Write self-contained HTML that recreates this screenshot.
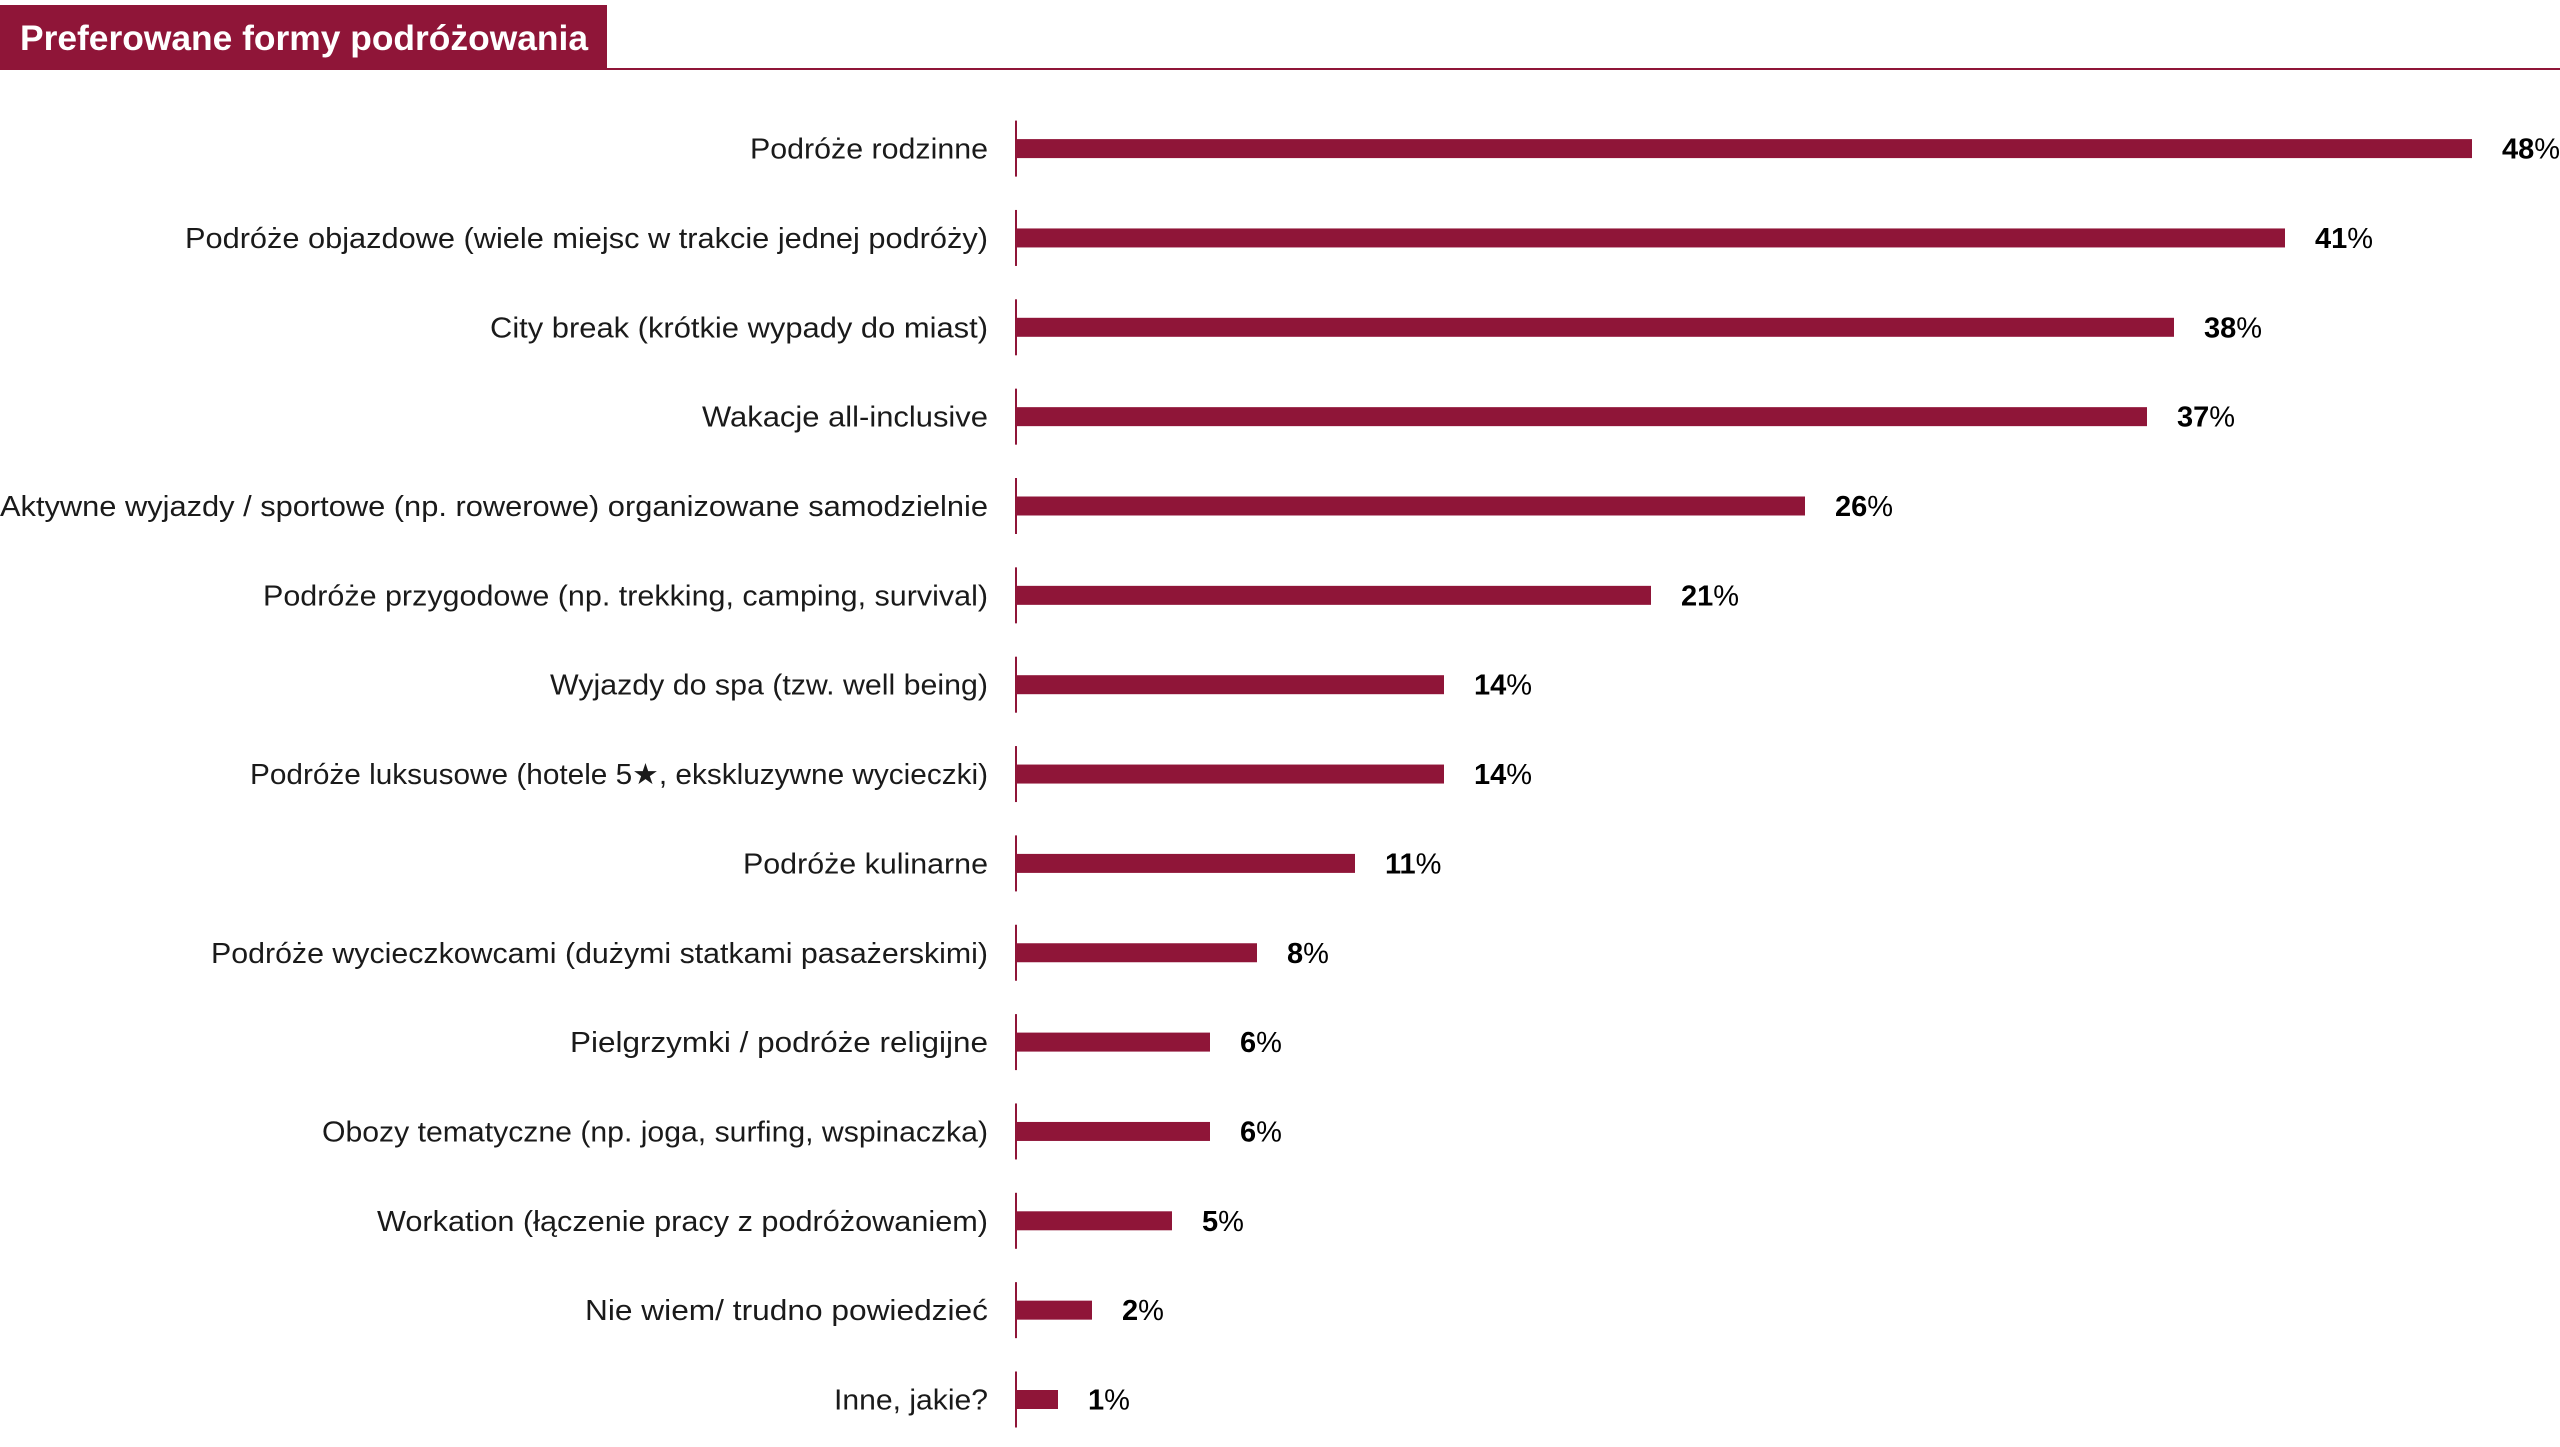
<!DOCTYPE html>
<html><head><meta charset="utf-8"><style>
html,body{margin:0;padding:0;background:#fff;width:2560px;height:1447px;overflow:hidden}
</style></head><body>
<svg width="2560" height="1447" xmlns="http://www.w3.org/2000/svg" font-family="'Liberation Sans', sans-serif">
<rect x="0" y="5" width="607" height="64" fill="#8f1538"/>
<rect x="0" y="68" width="2560" height="2" fill="#8f1538"/>
<text x="20" y="50" fill="#fff" font-size="35" font-weight="bold" textLength="568" lengthAdjust="spacingAndGlyphs">Preferowane formy podróżowania</text>
<g fill="#8f1538">
<rect x="1015" y="120.6" width="2" height="56"/><rect x="1016" y="139.1" width="1456" height="19"/>
<rect x="1015" y="209.95" width="2" height="56"/><rect x="1016" y="228.45" width="1269" height="19"/>
<rect x="1015" y="299.3" width="2" height="56"/><rect x="1016" y="317.8" width="1158" height="19"/>
<rect x="1015" y="388.65" width="2" height="56"/><rect x="1016" y="407.15" width="1131" height="19"/>
<rect x="1015" y="478" width="2" height="56"/><rect x="1016" y="496.5" width="789" height="19"/>
<rect x="1015" y="567.35" width="2" height="56"/><rect x="1016" y="585.85" width="635" height="19"/>
<rect x="1015" y="656.7" width="2" height="56"/><rect x="1016" y="675.2" width="428" height="19"/>
<rect x="1015" y="746.05" width="2" height="56"/><rect x="1016" y="764.55" width="428" height="19"/>
<rect x="1015" y="835.4" width="2" height="56"/><rect x="1016" y="853.9" width="339" height="19"/>
<rect x="1015" y="924.75" width="2" height="56"/><rect x="1016" y="943.25" width="241" height="19"/>
<rect x="1015" y="1014.1" width="2" height="56"/><rect x="1016" y="1032.6" width="194" height="19"/>
<rect x="1015" y="1103.45" width="2" height="56"/><rect x="1016" y="1121.95" width="194" height="19"/>
<rect x="1015" y="1192.8" width="2" height="56"/><rect x="1016" y="1211.3" width="156" height="19"/>
<rect x="1015" y="1282.15" width="2" height="56"/><rect x="1016" y="1300.65" width="76" height="19"/>
<rect x="1015" y="1371.5" width="2" height="56"/><rect x="1016" y="1390" width="42" height="19"/>
</g>
<g font-size="29" fill="#1a1a1a" text-anchor="end">
<text x="988" y="158.6" textLength="238" lengthAdjust="spacingAndGlyphs">Podróże rodzinne</text>
<text x="988" y="247.95" textLength="803" lengthAdjust="spacingAndGlyphs">Podróże objazdowe (wiele miejsc w trakcie jednej podróży)</text>
<text x="988" y="337.3" textLength="498" lengthAdjust="spacingAndGlyphs">City break (krótkie wypady do miast)</text>
<text x="988" y="426.65" textLength="286" lengthAdjust="spacingAndGlyphs">Wakacje all-inclusive</text>
<text x="988" y="516" textLength="988" lengthAdjust="spacingAndGlyphs">Aktywne wyjazdy / sportowe (np. rowerowe) organizowane samodzielnie</text>
<text x="988" y="605.35" textLength="725" lengthAdjust="spacingAndGlyphs">Podróże przygodowe (np. trekking, camping, survival)</text>
<text x="988" y="694.7" textLength="438" lengthAdjust="spacingAndGlyphs">Wyjazdy do spa (tzw. well being)</text>
<text x="988" y="784.05" textLength="738" lengthAdjust="spacingAndGlyphs">Podróże luksusowe (hotele 5★, ekskluzywne wycieczki)</text>
<text x="988" y="873.4" textLength="245" lengthAdjust="spacingAndGlyphs">Podróże kulinarne</text>
<text x="988" y="962.75" textLength="777" lengthAdjust="spacingAndGlyphs">Podróże wycieczkowcami (dużymi statkami pasażerskimi)</text>
<text x="988" y="1052.1" textLength="418" lengthAdjust="spacingAndGlyphs">Pielgrzymki / podróże religijne</text>
<text x="988" y="1141.45" textLength="666" lengthAdjust="spacingAndGlyphs">Obozy tematyczne (np. joga, surfing, wspinaczka)</text>
<text x="988" y="1230.8" textLength="611" lengthAdjust="spacingAndGlyphs">Workation (łączenie pracy z podróżowaniem)</text>
<text x="988" y="1320.15" textLength="403" lengthAdjust="spacingAndGlyphs">Nie wiem/ trudno powiedzieć</text>
<text x="988" y="1409.5" textLength="154" lengthAdjust="spacingAndGlyphs">Inne, jakie?</text>
</g>
<g font-size="29" fill="#000">
<text x="2502" y="158.6"><tspan font-weight="bold">48</tspan>%</text>
<text x="2315" y="247.95"><tspan font-weight="bold">41</tspan>%</text>
<text x="2204" y="337.3"><tspan font-weight="bold">38</tspan>%</text>
<text x="2177" y="426.65"><tspan font-weight="bold">37</tspan>%</text>
<text x="1835" y="516"><tspan font-weight="bold">26</tspan>%</text>
<text x="1681" y="605.35"><tspan font-weight="bold">21</tspan>%</text>
<text x="1474" y="694.7"><tspan font-weight="bold">14</tspan>%</text>
<text x="1474" y="784.05"><tspan font-weight="bold">14</tspan>%</text>
<text x="1385" y="873.4"><tspan font-weight="bold">11</tspan>%</text>
<text x="1287" y="962.75"><tspan font-weight="bold">8</tspan>%</text>
<text x="1240" y="1052.1"><tspan font-weight="bold">6</tspan>%</text>
<text x="1240" y="1141.45"><tspan font-weight="bold">6</tspan>%</text>
<text x="1202" y="1230.8"><tspan font-weight="bold">5</tspan>%</text>
<text x="1122" y="1320.15"><tspan font-weight="bold">2</tspan>%</text>
<text x="1088" y="1409.5"><tspan font-weight="bold">1</tspan>%</text>
</g>
</svg>
</body></html>
